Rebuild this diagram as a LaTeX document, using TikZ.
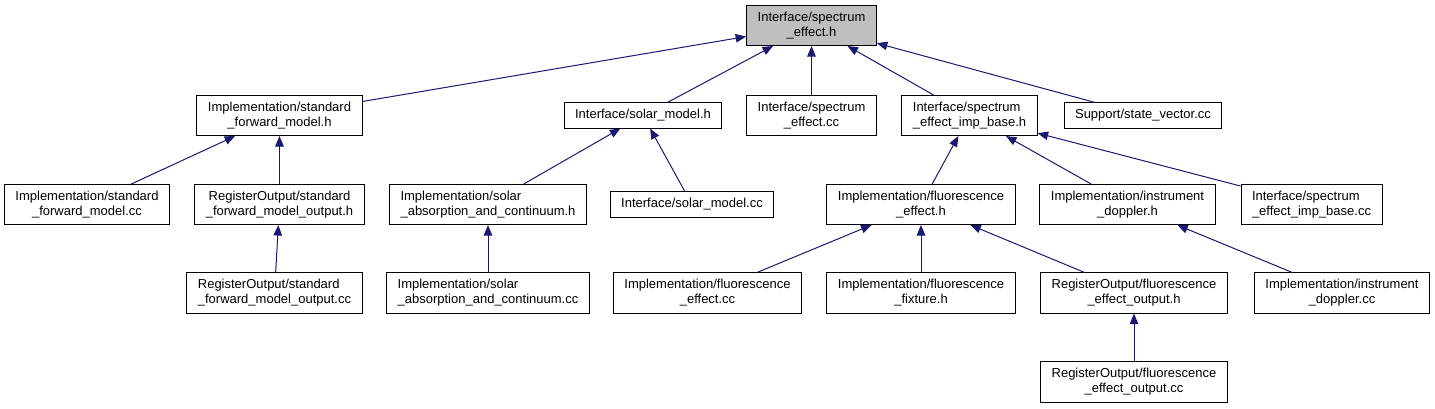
\documentclass[tikz,border=0pt]{standalone}
\usepackage{fontspec}
\setmainfont{Liberation Sans}
\usepackage{tikz}
\usetikzlibrary{positioning,arrows.meta}
\definecolor{navyline}{HTML}{191970}
\definecolor{rootgray}{HTML}{BFBFBF}

\begin{document}
\begin{tikzpicture}[every node/.style={font=\fontsize{13pt}{15pt}\selectfont}, >={Triangle[length=10.5pt,width=8.5pt]}, box/.style={draw, line width=1pt, align=center, inner xsep=11pt, inner ysep=6.5pt}, lbox/.style={box, align=left}, dep/.style={->, draw=navyline, line width=1pt}, on grid]
\node[box, fill=rootgray] (root) at (811.5pt,-25.5pt) {Interface/spectrum\\\_effect.h};
\node[box, below left=90pt and 532pt of root] (sfmh) {Implementation/standard\\\_forward\_model.h};
\node[box, below left=90pt and 168.5pt of root] (solarh) {Interface/solar\_model.h};
\node[box, below=90pt of root] (specc) {Interface/spectrum\\\_effect.cc};
\node[lbox, below right=90pt and 158pt of root] (impbaseh) {Interface/spectrum\\\_effect\_imp\_base.h};
\node[box, below right=90pt and 331.5pt of root] (statevec) {Support/state\_vector.cc};
\node[box, below left=89pt and 192.5pt of sfmh] (sfmcc) {Implementation/standard\\\_forward\_model.cc};
\node[box, below=89pt of sfmh] (sfmouth) {RegisterOutput/standard\\\_forward\_model\_output.h};
\node[lbox, below left=89pt and 155pt of solarh] (solabsh) {Implementation/solar\\\_absorption\_and\_continuum.h};
\node[box, below right=89pt and 49pt of solarh] (solarcc) {Interface/solar\_model.cc};
\node[box, below left=89pt and 48.5pt of impbaseh] (fluorh) {Implementation/fluorescence\\\_effect.h};
\node[box, below right=89pt and 158pt of impbaseh] (dopplerh) {Implementation/instrument\\\_doppler.h};
\node[lbox, below right=89pt and 342pt of impbaseh] (impbasecc) {Interface/spectrum\\\_effect\_imp\_base.cc};
\node[lbox, below left=88.5pt and 5pt of sfmouth] (sfmoutcc) {RegisterOutput/standard\\\_forward\_model\_output.cc};
\node[lbox, below=88.5pt of solabsh] (solabscc) {Implementation/solar\\\_absorption\_and\_continuum.cc};
\node[box, below left=88.5pt and 213.5pt of fluorh] (fluorcc) {Implementation/fluorescence\\\_effect.cc};
\node[box, below=88.5pt of fluorh] (fixtureh) {Implementation/fluorescence\\\_fixture.h};
\node[box, below right=88.5pt and 213pt of fluorh] (fluorouth) {RegisterOutput/fluorescence\\\_effect\_output.h};
\node[box, below right=88.5pt and 214.5pt of dopplerh] (dopplercc) {Implementation/instrument\\\_doppler.cc};
\node[box, below=89pt of fluorouth] (fluoroutcc) {RegisterOutput/fluorescence\\\_effect\_output.cc};
\draw[dep] (sfmh) -- (root);
\draw[dep] (solarh) -- (root);
\draw[dep] (specc) -- (root);
\draw[dep] (impbaseh) -- (root);
\draw[dep] (statevec) -- (root);
\draw[dep] (sfmcc) -- (sfmh);
\draw[dep] (sfmouth) -- (sfmh);
\draw[dep] (sfmoutcc) -- (sfmouth);
\draw[dep] (solabsh) -- (solarh);
\draw[dep] (solarcc) -- (solarh);
\draw[dep] (solabscc) -- (solabsh);
\draw[dep] (fluorh) -- (impbaseh);
\draw[dep] (dopplerh) -- (impbaseh);
\draw[dep] (impbasecc) -- (impbaseh);
\draw[dep] (fluorcc) -- (fluorh);
\draw[dep] (fixtureh) -- (fluorh);
\draw[dep] (fluorouth) -- (fluorh);
\draw[dep] (fluoroutcc) -- (fluorouth);
\draw[dep] (dopplercc) -- (dopplerh);
\useasboundingbox (0pt,0pt) rectangle (1435pt,-409pt);
\end{tikzpicture}
\end{document}
